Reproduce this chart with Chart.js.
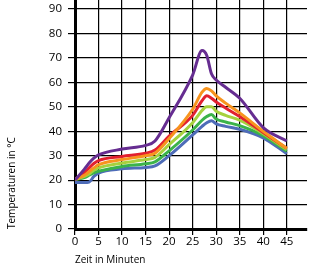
<!DOCTYPE html>
<html lang="de">
<head>
    <meta charset="UTF-8">
    <script src="https://cdn.jsdelivr.net/npm/chart.js"></script>
    <title>Temperaturen</title>
    <style>
        body { margin: 0; background: #fff; }
    </style>
</head>
<body>
    <canvas id="chartTemp" width="318" height="266"></canvas>

    <script>
        // Zeitpunkte in Minuten
        var zeiten = [0, 2, 3, 4, 5, 10, 15, 17, 20, 25, 27, 28, 29, 30, 32, 35, 40, 45];

        // Temperaturkurven
        var lila    = [20, 24.5, 27, 29, 30.3, 32.7, 34.2, 36, 45.5, 63, 73, 71, 63.5, 61, 58, 53.5, 41.5, 36];
        var rot     = [20.3, 23, 25, 26.8, 28, 29.7, 31, 32.3, 38, 46.5, 52.5, 54.5, 53.5, 52, 49.5, 46, 39.5, 33];
        var orange  = [20.3, 22, 23.5, 25, 26.3, 28.4, 30, 31, 37, 49, 56, 57.5, 56.5, 54.5, 51.5, 47.5, 40, 33];
        var hellgruen = [20.3, 21.5, 22.5, 24, 25, 27, 28.4, 29.3, 34.5, 43.5, 48.5, 50, 50, 48.2, 46.5, 44.5, 39, 32.5];
        var gruen   = [20.3, 21, 22, 23, 23.6, 25.6, 26.7, 27.5, 32, 40.5, 44.5, 46, 46.8, 45, 43.8, 42.3, 38.2, 31.8];
        var blau    = [19, 19, 19.2, 21.5, 22.9, 24.6, 25.2, 25.8, 30, 38.5, 42, 43.5, 44.3, 43, 42, 40.8, 37.3, 30.8];

        function punkte(werte) {
            return werte.map(function(v, i) { return { x: zeiten[i], y: v }; });
        }

        function linie(werte, farbe) {
            return {
                data: punkte(werte),
                borderColor: farbe,
                borderWidth: 3,
                pointRadius: 0,
                fill: false,
                cubicInterpolationMode: 'monotone'
            };
        }

        var ctx = document.getElementById('chartTemp').getContext('2d');
        var chart = new Chart(ctx, {
            type: 'line',
            data: {
                datasets: [
                    linie(lila, '#662d91'),
                    linie(orange, '#f7941e'),
                    linie(rot, '#e2202f'),
                    linie(hellgruen, '#a6d13e'),
                    linie(gruen, '#3bb34a'),
                    linie(blau, '#4e6cb8')
                ]
            },
            options: {
                responsive: false,
                animation: false,
                layout: { padding: { top: 0, right: 11, bottom: 0, left: 0 } },
                plugins: {
                    legend: { display: false },
                    tooltip: { enabled: false }
                },
                scales: {
                    x: {
                        type: 'linear',
                        min: 0,
                        max: 49.3,
                        afterFit: function(s) { s.height = 37; s.paddingLeft = 0; s.paddingRight = 0; },
                        border: { display: true, color: '#000', width: 3 },
                        grid: { color: '#000', lineWidth: 1.2, tickLength: 6 },
                        ticks: {
                            stepSize: 5,
                            includeBounds: false,
                            padding: 0,
                            color: '#000',
                            font: { family: 'Open Sans', size: 11.5 },
                            callback: function(v) { return v <= 45 ? v : ''; }
                        },
                        title: {
                            display: true,
                            text: 'Zeit in Minuten',
                            align: 'start',
                            color: '#000',
                            padding: 0,
                            font: { family: 'Open Sans', size: 10 }
                        }
                    },
                    y: {
                        min: 0,
                        max: 93.7,
                        afterFit: function(s) { s.width = 75; s.paddingTop = 0; s.paddingBottom = 0; },
                        border: { display: true, color: '#000', width: 3 },
                        grid: { color: '#000', lineWidth: 1.2, tickLength: 7 },
                        ticks: {
                            stepSize: 10,
                            includeBounds: false,
                            padding: 6,
                            color: '#000',
                            font: { family: 'Open Sans', size: 11.5 }
                        },
                        title: {
                            display: true,
                            text: 'Temperaturen in °C',
                            align: 'start',
                            color: '#000',
                            padding: { top: 6, bottom: 0 },
                            font: { family: 'Open Sans', size: 10 }
                        }
                    }
                }
            }
        });
    </script>
</body>
</html>
